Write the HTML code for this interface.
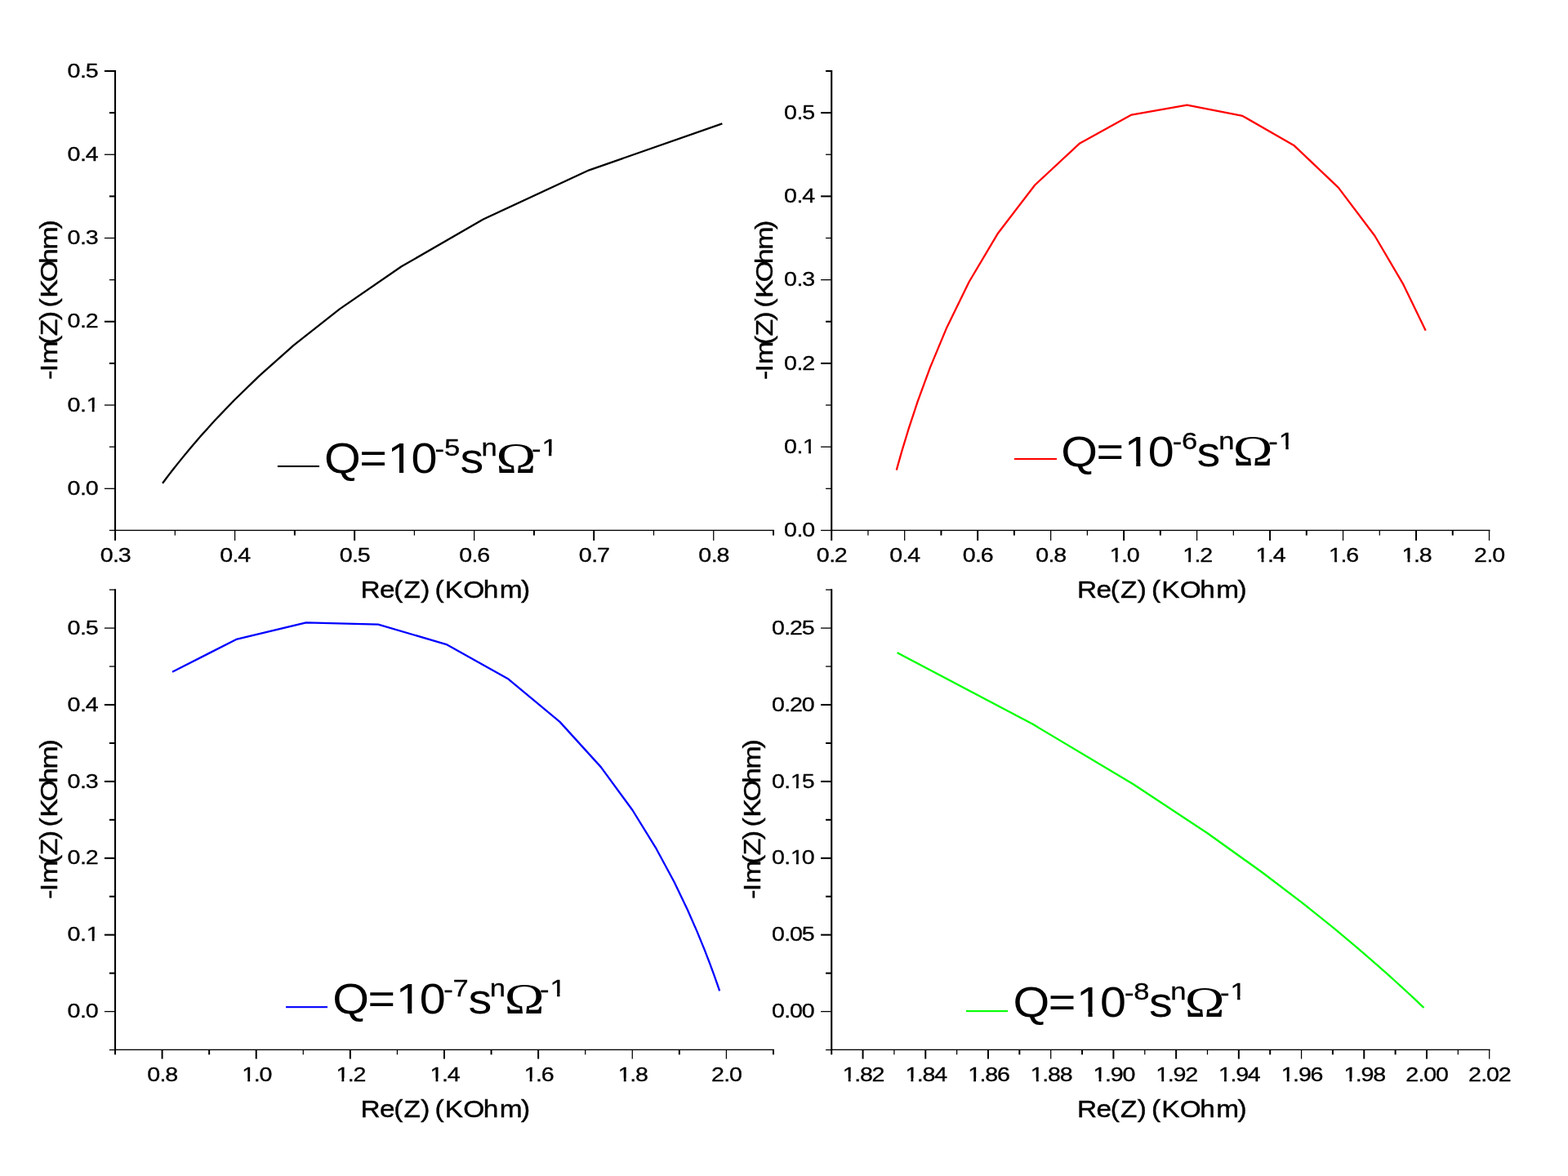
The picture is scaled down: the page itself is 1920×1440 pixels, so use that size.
<!DOCTYPE html>
<html lang="en"><head><meta charset="utf-8"><title>Nyquist plots</title>
<style>html,body{margin:0;padding:0;background:#fff;overflow:hidden}svg{display:block}text{fill:#000;font-family:"Liberation Sans",Arial,Helvetica,sans-serif;font-kerning:none;white-space:pre}text.sf{font-family:"Liberation Serif","Times New Roman",serif}</style>
</head><body>
<svg width="1920" height="1440" viewBox="0 0 1920 1440">
<rect width="1920" height="1440" fill="#fff"/>
<rect x="139.95" y="86" width="2.1" height="564.07" fill="#000"/>
<rect x="140" y="648.73" width="807.9" height="1.35" fill="#000"/>
<rect x="127.9" y="85.97" width="13.1" height="2.05" fill="#000"/>
<g transform="translate(119.45,94.6) scale(1.2275,1)"><text font-size="23.3" x="-30.01 -17.52 -12.01" stroke="#000" stroke-width="0.3">0.5</text></g>
<rect x="133.9" y="137.1" width="7.1" height="2.05" fill="#000"/>
<rect x="127.9" y="188.61" width="13.1" height="1.3" fill="#000"/>
<g transform="translate(119.45,196.86) scale(1.2275,1)"><text font-size="23.3" x="-30.01 -17.52 -12.01" stroke="#000" stroke-width="0.3">0.4</text></g>
<rect x="133.9" y="239.36" width="7.1" height="2.05" fill="#000"/>
<rect x="127.9" y="290.87" width="13.1" height="1.3" fill="#000"/>
<g transform="translate(119.45,299.12) scale(1.2275,1)"><text font-size="23.3" x="-30.01 -17.52 -12.01" stroke="#000" stroke-width="0.3">0.3</text></g>
<rect x="133.9" y="342" width="7.1" height="1.3" fill="#000"/>
<rect x="127.9" y="392.75" width="13.1" height="2.05" fill="#000"/>
<g transform="translate(119.45,401.38) scale(1.2275,1)"><text font-size="23.3" x="-30.01 -17.52 -12.01" stroke="#000" stroke-width="0.3">0.2</text></g>
<rect x="133.9" y="443.88" width="7.1" height="2.05" fill="#000"/>
<rect x="127.9" y="495.39" width="13.1" height="1.3" fill="#000"/>
<g transform="translate(119.45,503.64) scale(1.2275,1)"><text font-size="23.3" x="-30.01 -17.52 -11.24" stroke="#000" stroke-width="0.3">0.1</text><rect x="-10.82" y="-3.5" width="5.28" height="5.25" fill="#fff"/><rect x="-3.17" y="-3.5" width="5.24" height="5.25" fill="#fff"/></g>
<rect x="133.9" y="546.52" width="7.1" height="1.3" fill="#000"/>
<rect x="127.9" y="597.65" width="13.1" height="1.3" fill="#000"/>
<g transform="translate(119.45,605.9) scale(1.2275,1)"><text font-size="23.3" x="-30.01 -17.52 -12.01" stroke="#000" stroke-width="0.3">0.0</text></g>
<rect x="133.9" y="648.78" width="7.1" height="1.3" fill="#000"/>
<rect x="140.05" y="649.4" width="2" height="12.5" fill="#000"/>
<g transform="translate(141.05,687.5) scale(1.2275,1)"><text font-size="23.3" x="-15.01 -2.51 3" stroke="#000" stroke-width="0.3">0.3</text></g>
<rect x="213.69" y="649.4" width="1.25" height="6.2" fill="#000"/>
<rect x="286.97" y="649.4" width="1.25" height="12.5" fill="#000"/>
<g transform="translate(287.59,687.5) scale(1.2275,1)"><text font-size="23.3" x="-15.01 -2.51 3" stroke="#000" stroke-width="0.3">0.4</text></g>
<rect x="359.86" y="649.4" width="2" height="6.2" fill="#000"/>
<rect x="433.13" y="649.4" width="2" height="12.5" fill="#000"/>
<g transform="translate(434.13,687.5) scale(1.2275,1)"><text font-size="23.3" x="-15.01 -2.51 3" stroke="#000" stroke-width="0.3">0.5</text></g>
<rect x="506.78" y="649.4" width="1.25" height="6.2" fill="#000"/>
<rect x="580.05" y="649.4" width="1.25" height="12.5" fill="#000"/>
<g transform="translate(580.67,687.5) scale(1.2275,1)"><text font-size="23.3" x="-15.01 -2.51 3" stroke="#000" stroke-width="0.3">0.6</text></g>
<rect x="652.94" y="649.4" width="2" height="6.2" fill="#000"/>
<rect x="726.21" y="649.4" width="2" height="12.5" fill="#000"/>
<g transform="translate(727.21,687.5) scale(1.2275,1)"><text font-size="23.3" x="-15.01 -2.51 3" stroke="#000" stroke-width="0.3">0.7</text></g>
<rect x="799.86" y="649.4" width="1.25" height="6.2" fill="#000"/>
<rect x="873.12" y="649.4" width="1.25" height="12.5" fill="#000"/>
<g transform="translate(873.75,687.5) scale(1.2275,1)"><text font-size="23.3" x="-15.01 -2.51 3" stroke="#000" stroke-width="0.3">0.8</text></g>
<rect x="946.02" y="649.4" width="2" height="6.2" fill="#000"/>
<g transform="translate(454.1,732.4) scale(1.1284,1)"><text font-size="29.6" x="-11.22 9.7 24.9 35.71 54.3 57.85 69.39 80.36 100.34 122.07 139.65 163.05" stroke="#000" stroke-width="0.4">Re(Z) (KOhm)</text></g>
<g transform="translate(70.1,459) rotate(-90) scale(1.1151,1)"><text font-size="30.4" x="-5.06 3.36 12.05 33.24 42.86 59.78 63.37 73.95 84.48 101.95 122.01 137.64 160" stroke="#000" stroke-width="0.4">-Im(Z) (KOhm)</text></g>
<polyline points="199.69,590.88 201.51,588.45 203.9,585.29 207.04,581.17 211.19,575.82 216.66,568.87 223.91,559.87 233.54,548.26 246.37,533.34 263.53,514.31 286.57,490.21 317.61,460.07 359.49,422.97 415.95,378.33 491.62,326.32 591.77,268.47 721.35,208.31 883.26,151.75" fill="none" stroke="#000" stroke-width="2.3" stroke-linejoin="round" stroke-linecap="square"/>
<rect x="339.9" y="569.95" width="51.1" height="2.1" fill="#000"/>
<g transform="translate(397.1,579.3) scale(1.1058,1)"><text font-size="52" x="0 39.04 70.07 96.27">Q=10</text><rect x="72.82" y="-5.5" width="10.3" height="7.1" fill="#fff"/><rect x="87.75" y="-5.5" width="9.88" height="7.1" fill="#fff"/></g>
<g transform="translate(532.58,558.3) scale(1.1424,1)"><text font-size="30.2" x="0 9.97" dy="1.6 -1.6" stroke="#000" stroke-width="0.3">-5</text></g>
<g transform="translate(563.39,579.3) scale(1.1058,1)"><text font-size="52" x="0">s</text></g>
<g transform="translate(589.52,558.3) scale(1.1424,1)"><text font-size="30.2" x="0" stroke="#000" stroke-width="0.3">n</text></g>
<g transform="translate(607.48,579) scale(1.2576,1)"><text class="sf" font-size="52.27">Ω</text></g>
<g transform="translate(650.88,558.3) scale(1.1424,1)"><text font-size="30.2" x="0 10.97" dy="1.6 -1.6" stroke="#000" stroke-width="0.3">-1</text><rect x="11.91" y="-4.01" width="6.48" height="5.76" fill="#fff"/><rect x="21.38" y="-4.01" width="6.39" height="5.76" fill="#fff"/></g>
<rect x="1017.15" y="86" width="2.1" height="564.07" fill="#000"/>
<rect x="1017.2" y="648.73" width="807.3" height="1.35" fill="#000"/>
<rect x="1011.1" y="85.94" width="7.1" height="2.05" fill="#000"/>
<rect x="1005.1" y="137.08" width="13.1" height="2.05" fill="#000"/>
<g transform="translate(996.9,145.7) scale(1.2275,1)"><text font-size="23.3" x="-30.01 -17.52 -12.01" stroke="#000" stroke-width="0.3">0.5</text></g>
<rect x="1011.1" y="188.59" width="7.1" height="1.3" fill="#000"/>
<rect x="1005.1" y="239.34" width="13.1" height="2.05" fill="#000"/>
<g transform="translate(996.9,247.97) scale(1.2275,1)"><text font-size="23.3" x="-30.01 -17.52 -12.01" stroke="#000" stroke-width="0.3">0.4</text></g>
<rect x="1011.1" y="290.86" width="7.1" height="1.3" fill="#000"/>
<rect x="1005.1" y="341.99" width="13.1" height="1.3" fill="#000"/>
<g transform="translate(996.9,350.24) scale(1.2275,1)"><text font-size="23.3" x="-30.01 -17.52 -12.01" stroke="#000" stroke-width="0.3">0.3</text></g>
<rect x="1011.1" y="392.75" width="7.1" height="2.05" fill="#000"/>
<rect x="1005.1" y="443.89" width="13.1" height="2.05" fill="#000"/>
<g transform="translate(996.9,452.51) scale(1.2275,1)"><text font-size="23.3" x="-30.01 -17.52 -12.01" stroke="#000" stroke-width="0.3">0.2</text></g>
<rect x="1011.1" y="495.4" width="7.1" height="1.3" fill="#000"/>
<rect x="1005.1" y="546.53" width="13.1" height="1.3" fill="#000"/>
<g transform="translate(996.9,554.78) scale(1.2275,1)"><text font-size="23.3" x="-30.01 -17.52 -11.24" stroke="#000" stroke-width="0.3">0.1</text><rect x="-10.82" y="-3.5" width="5.28" height="5.25" fill="#fff"/><rect x="-3.17" y="-3.5" width="5.24" height="5.25" fill="#fff"/></g>
<rect x="1011.1" y="597.67" width="7.1" height="1.3" fill="#000"/>
<rect x="1005.1" y="648.8" width="13.1" height="1.3" fill="#000"/>
<g transform="translate(996.9,657.05) scale(1.2275,1)"><text font-size="23.3" x="-30.01 -17.52 -12.01" stroke="#000" stroke-width="0.3">0.0</text></g>
<rect x="1017.2" y="649.4" width="2" height="12.5" fill="#000"/>
<g transform="translate(1018.2,687.5) scale(1.2275,1)"><text font-size="23.3" x="-15.01 -2.51 3" stroke="#000" stroke-width="0.3">0.2</text></g>
<rect x="1062.32" y="649.4" width="1.25" height="6.2" fill="#000"/>
<rect x="1107.06" y="649.4" width="1.25" height="12.5" fill="#000"/>
<g transform="translate(1107.68,687.5) scale(1.2275,1)"><text font-size="23.3" x="-15.01 -2.51 3" stroke="#000" stroke-width="0.3">0.4</text></g>
<rect x="1151.42" y="649.4" width="2" height="6.2" fill="#000"/>
<rect x="1196.16" y="649.4" width="2" height="12.5" fill="#000"/>
<g transform="translate(1197.16,687.5) scale(1.2275,1)"><text font-size="23.3" x="-15.01 -2.51 3" stroke="#000" stroke-width="0.3">0.6</text></g>
<rect x="1240.9" y="649.4" width="2" height="6.2" fill="#000"/>
<rect x="1286.02" y="649.4" width="1.25" height="12.5" fill="#000"/>
<g transform="translate(1286.64,687.5) scale(1.2275,1)"><text font-size="23.3" x="-15.01 -2.51 3" stroke="#000" stroke-width="0.3">0.8</text></g>
<rect x="1330.76" y="649.4" width="1.25" height="6.2" fill="#000"/>
<rect x="1375.12" y="649.4" width="2" height="12.5" fill="#000"/>
<g transform="translate(1376.12,687.5) scale(1.2275,1)"><text font-size="23.3" x="-14.24 -2.51 3" stroke="#000" stroke-width="0.3">1.0</text><rect x="-13.82" y="-3.5" width="5.28" height="5.25" fill="#fff"/><rect x="-6.17" y="-3.5" width="5.24" height="5.25" fill="#fff"/></g>
<rect x="1419.86" y="649.4" width="2" height="6.2" fill="#000"/>
<rect x="1464.97" y="649.4" width="1.25" height="12.5" fill="#000"/>
<g transform="translate(1465.6,687.5) scale(1.2275,1)"><text font-size="23.3" x="-14.24 -2.51 3" stroke="#000" stroke-width="0.3">1.2</text><rect x="-13.82" y="-3.5" width="5.28" height="5.25" fill="#fff"/><rect x="-6.17" y="-3.5" width="5.24" height="5.25" fill="#fff"/></g>
<rect x="1509.72" y="649.4" width="1.25" height="6.2" fill="#000"/>
<rect x="1554.08" y="649.4" width="2" height="12.5" fill="#000"/>
<g transform="translate(1555.08,687.5) scale(1.2275,1)"><text font-size="23.3" x="-14.24 -2.51 3" stroke="#000" stroke-width="0.3">1.4</text><rect x="-13.82" y="-3.5" width="5.28" height="5.25" fill="#fff"/><rect x="-6.17" y="-3.5" width="5.24" height="5.25" fill="#fff"/></g>
<rect x="1598.82" y="649.4" width="2" height="6.2" fill="#000"/>
<rect x="1643.93" y="649.4" width="1.25" height="12.5" fill="#000"/>
<g transform="translate(1644.56,687.5) scale(1.2275,1)"><text font-size="23.3" x="-14.24 -2.51 3" stroke="#000" stroke-width="0.3">1.6</text><rect x="-13.82" y="-3.5" width="5.28" height="5.25" fill="#fff"/><rect x="-6.17" y="-3.5" width="5.24" height="5.25" fill="#fff"/></g>
<rect x="1688.68" y="649.4" width="1.25" height="6.2" fill="#000"/>
<rect x="1733.04" y="649.4" width="2" height="12.5" fill="#000"/>
<g transform="translate(1734.04,687.5) scale(1.2275,1)"><text font-size="23.3" x="-14.24 -2.51 3" stroke="#000" stroke-width="0.3">1.8</text><rect x="-13.82" y="-3.5" width="5.28" height="5.25" fill="#fff"/><rect x="-6.17" y="-3.5" width="5.24" height="5.25" fill="#fff"/></g>
<rect x="1777.78" y="649.4" width="2" height="6.2" fill="#000"/>
<rect x="1822.89" y="649.4" width="1.25" height="12.5" fill="#000"/>
<g transform="translate(1823.52,687.5) scale(1.2275,1)"><text font-size="23.3" x="-15.01 -2.51 3" stroke="#000" stroke-width="0.3">2.0</text></g>
<g transform="translate(1331.6,732.4) scale(1.1284,1)"><text font-size="29.6" x="-11.22 9.7 24.9 35.71 54.3 57.85 69.39 80.36 100.34 122.07 139.65 163.05" stroke="#000" stroke-width="0.4">Re(Z) (KOhm)</text></g>
<g transform="translate(945.6,459.3) rotate(-90) scale(1.1151,1)"><text font-size="30.4" x="-5.06 3.36 12.05 33.24 42.86 59.78 63.37 73.95 84.48 101.95 122.01 137.64 160" stroke="#000" stroke-width="0.4">-Im(Z) (KOhm)</text></g>
<polyline points="1098.04,574.47 1104.24,552.66 1112.58,525.23 1123.82,491.21 1138.99,449.83 1159.39,400.88 1186.57,345.23 1222.12,285.46 1267.28,226.48 1322.26,175.45 1385.53,140.55 1453.54,128.52 1521.42,141.91 1584.3,177.9 1638.77,229.58 1683.39,288.77 1718.44,348.41 1745.2,403.75" fill="none" stroke="#f00" stroke-width="2.3" stroke-linejoin="round" stroke-linecap="square"/>
<rect x="1241.9" y="560.95" width="52.1" height="2.1" fill="#f00"/>
<g transform="translate(1299.35,570.7) scale(1.1058,1)"><text font-size="52" x="0 39.04 70.07 96.27">Q=10</text><rect x="72.82" y="-5.5" width="10.3" height="7.1" fill="#fff"/><rect x="87.75" y="-5.5" width="9.88" height="7.1" fill="#fff"/></g>
<g transform="translate(1435.73,549.7) scale(1.1424,1)"><text font-size="30.2" x="0 9.97" dy="1.6 -1.6" stroke="#000" stroke-width="0.3">-6</text></g>
<g transform="translate(1465.44,570.7) scale(1.1058,1)"><text font-size="52" x="0">s</text></g>
<g transform="translate(1492.27,549.7) scale(1.1424,1)"><text font-size="30.2" x="0" stroke="#000" stroke-width="0.3">n</text></g>
<g transform="translate(1509.83,570.4) scale(1.2576,1)"><text class="sf" font-size="52.27">Ω</text></g>
<g transform="translate(1553.33,549.7) scale(1.1424,1)"><text font-size="30.2" x="0 10.97" dy="1.6 -1.6" stroke="#000" stroke-width="0.3">-1</text><rect x="11.91" y="-4.01" width="6.48" height="5.76" fill="#fff"/><rect x="21.38" y="-4.01" width="6.39" height="5.76" fill="#fff"/></g>
<rect x="139.95" y="721.3" width="2.1" height="564.78" fill="#000"/>
<rect x="140" y="1284.73" width="807.9" height="1.35" fill="#000"/>
<rect x="133.9" y="721.5" width="7.1" height="1.3" fill="#000"/>
<rect x="127.9" y="768.45" width="13.1" height="1.3" fill="#000"/>
<g transform="translate(119.45,776.7) scale(1.2275,1)"><text font-size="23.3" x="-30.01 -17.52 -12.01" stroke="#000" stroke-width="0.3">0.5</text></g>
<rect x="133.9" y="815.4" width="7.1" height="1.3" fill="#000"/>
<rect x="127.9" y="861.97" width="13.1" height="2.05" fill="#000"/>
<g transform="translate(119.45,870.6) scale(1.2275,1)"><text font-size="23.3" x="-30.01 -17.52 -12.01" stroke="#000" stroke-width="0.3">0.4</text></g>
<rect x="133.9" y="908.92" width="7.1" height="2.05" fill="#000"/>
<rect x="127.9" y="955.87" width="13.1" height="2.05" fill="#000"/>
<g transform="translate(119.45,964.5) scale(1.2275,1)"><text font-size="23.3" x="-30.01 -17.52 -12.01" stroke="#000" stroke-width="0.3">0.3</text></g>
<rect x="133.9" y="1002.82" width="7.1" height="2.05" fill="#000"/>
<rect x="127.9" y="1049.77" width="13.1" height="2.05" fill="#000"/>
<g transform="translate(119.45,1058.4) scale(1.2275,1)"><text font-size="23.3" x="-30.01 -17.52 -12.01" stroke="#000" stroke-width="0.3">0.2</text></g>
<rect x="133.9" y="1096.72" width="7.1" height="2.05" fill="#000"/>
<rect x="127.9" y="1143.67" width="13.1" height="2.05" fill="#000"/>
<g transform="translate(119.45,1152.3) scale(1.2275,1)"><text font-size="23.3" x="-30.01 -17.52 -11.24" stroke="#000" stroke-width="0.3">0.1</text><rect x="-10.82" y="-3.5" width="5.28" height="5.25" fill="#fff"/><rect x="-3.17" y="-3.5" width="5.24" height="5.25" fill="#fff"/></g>
<rect x="133.9" y="1190.62" width="7.1" height="2.05" fill="#000"/>
<rect x="127.9" y="1237.95" width="13.1" height="1.3" fill="#000"/>
<g transform="translate(119.45,1246.2) scale(1.2275,1)"><text font-size="23.3" x="-30.01 -17.52 -12.01" stroke="#000" stroke-width="0.3">0.0</text></g>
<rect x="133.9" y="1284.9" width="7.1" height="1.3" fill="#000"/>
<rect x="140" y="1285.4" width="2" height="6" fill="#000"/>
<rect x="197.57" y="1285.4" width="2" height="11.2" fill="#000"/>
<g transform="translate(198.57,1323.75) scale(1.2275,1)"><text font-size="23.3" x="-15.01 -2.51 3" stroke="#000" stroke-width="0.3">0.8</text></g>
<rect x="255.14" y="1285.4" width="2" height="6" fill="#000"/>
<rect x="312.71" y="1285.4" width="2" height="11.2" fill="#000"/>
<g transform="translate(313.71,1323.75) scale(1.2275,1)"><text font-size="23.3" x="-14.24 -2.51 3" stroke="#000" stroke-width="0.3">1.0</text><rect x="-13.82" y="-3.5" width="5.28" height="5.25" fill="#fff"/><rect x="-6.17" y="-3.5" width="5.24" height="5.25" fill="#fff"/></g>
<rect x="370.66" y="1285.4" width="1.25" height="6" fill="#000"/>
<rect x="427.85" y="1285.4" width="2" height="11.2" fill="#000"/>
<g transform="translate(428.85,1323.75) scale(1.2275,1)"><text font-size="23.3" x="-14.24 -2.51 3" stroke="#000" stroke-width="0.3">1.2</text><rect x="-13.82" y="-3.5" width="5.28" height="5.25" fill="#fff"/><rect x="-6.17" y="-3.5" width="5.24" height="5.25" fill="#fff"/></g>
<rect x="485.8" y="1285.4" width="1.25" height="6" fill="#000"/>
<rect x="542.99" y="1285.4" width="2" height="11.2" fill="#000"/>
<g transform="translate(543.99,1323.75) scale(1.2275,1)"><text font-size="23.3" x="-14.24 -2.51 3" stroke="#000" stroke-width="0.3">1.4</text><rect x="-13.82" y="-3.5" width="5.28" height="5.25" fill="#fff"/><rect x="-6.17" y="-3.5" width="5.24" height="5.25" fill="#fff"/></g>
<rect x="600.56" y="1285.4" width="2" height="6" fill="#000"/>
<rect x="658.13" y="1285.4" width="2" height="11.2" fill="#000"/>
<g transform="translate(659.13,1323.75) scale(1.2275,1)"><text font-size="23.3" x="-14.24 -2.51 3" stroke="#000" stroke-width="0.3">1.6</text><rect x="-13.82" y="-3.5" width="5.28" height="5.25" fill="#fff"/><rect x="-6.17" y="-3.5" width="5.24" height="5.25" fill="#fff"/></g>
<rect x="716.08" y="1285.4" width="1.25" height="6" fill="#000"/>
<rect x="773.65" y="1285.4" width="1.25" height="11.2" fill="#000"/>
<g transform="translate(774.27,1323.75) scale(1.2275,1)"><text font-size="23.3" x="-14.24 -2.51 3" stroke="#000" stroke-width="0.3">1.8</text><rect x="-13.82" y="-3.5" width="5.28" height="5.25" fill="#fff"/><rect x="-6.17" y="-3.5" width="5.24" height="5.25" fill="#fff"/></g>
<rect x="830.84" y="1285.4" width="2" height="6" fill="#000"/>
<rect x="888.79" y="1285.4" width="1.25" height="11.2" fill="#000"/>
<g transform="translate(889.41,1323.75) scale(1.2275,1)"><text font-size="23.3" x="-15.01 -2.51 3" stroke="#000" stroke-width="0.3">2.0</text></g>
<rect x="945.98" y="1285.4" width="2" height="6" fill="#000"/>
<g transform="translate(454.1,1367.6) scale(1.1284,1)"><text font-size="29.6" x="-11.22 9.7 24.9 35.71 54.3 57.85 69.39 80.36 100.34 122.07 139.65 163.05" stroke="#000" stroke-width="0.4">Re(Z) (KOhm)</text></g>
<g transform="translate(70.1,1095) rotate(-90) scale(1.1151,1)"><text font-size="30.4" x="-5.06 3.36 12.05 33.24 42.86 59.78 63.37 73.95 84.48 101.95 122.01 137.64 160" stroke="#000" stroke-width="0.4">-Im(Z) (KOhm)</text></g>
<polyline points="212.03,822.21 289.28,782.92 374.89,762.32 463.12,764.65 547.47,789.4 622.57,831.59 685.48,883.88 735.71,939.13 774.48,992.02 803.74,1039.43 825.57,1080.04 841.75,1113.74 853.75,1141.09 862.65,1162.93 869.29,1180.18 874.25,1193.69 877.97,1204.21 880.78,1212.36" fill="none" stroke="#00f" stroke-width="2.3" stroke-linejoin="round" stroke-linecap="square"/>
<rect x="350" y="1232.1" width="51" height="2.1" fill="#00f"/>
<g transform="translate(407.3,1241.2) scale(1.1058,1)"><text font-size="52" x="0 39.04 70.07 96.27">Q=10</text><rect x="72.82" y="-5.5" width="10.3" height="7.1" fill="#fff"/><rect x="87.75" y="-5.5" width="9.88" height="7.1" fill="#fff"/></g>
<g transform="translate(543.18,1220.2) scale(1.1424,1)"><text font-size="30.2" x="0 9.97" dy="1.6 -1.6" stroke="#000" stroke-width="0.3">-7</text></g>
<g transform="translate(573.59,1241.2) scale(1.1058,1)"><text font-size="52" x="0">s</text></g>
<g transform="translate(599.72,1220.2) scale(1.1424,1)"><text font-size="30.2" x="0" stroke="#000" stroke-width="0.3">n</text></g>
<g transform="translate(617.68,1240.9) scale(1.2576,1)"><text class="sf" font-size="52.27">Ω</text></g>
<g transform="translate(661.08,1220.2) scale(1.1424,1)"><text font-size="30.2" x="0 10.97" dy="1.6 -1.6" stroke="#000" stroke-width="0.3">-1</text><rect x="11.91" y="-4.01" width="6.48" height="5.76" fill="#fff"/><rect x="21.38" y="-4.01" width="6.39" height="5.76" fill="#fff"/></g>
<rect x="1017.15" y="721.3" width="2.1" height="564.78" fill="#000"/>
<rect x="1017.2" y="1284.73" width="807.4" height="1.35" fill="#000"/>
<rect x="1011.1" y="721.5" width="7.1" height="1.3" fill="#000"/>
<rect x="1005.1" y="768.45" width="13.1" height="1.3" fill="#000"/>
<g transform="translate(996.45,776.7) scale(1.2275,1)"><text font-size="23.3" x="-42.02 -29.52 -24.01 -12.01" stroke="#000" stroke-width="0.3">0.25</text></g>
<rect x="1011.1" y="815.4" width="7.1" height="1.3" fill="#000"/>
<rect x="1005.1" y="861.97" width="13.1" height="2.05" fill="#000"/>
<g transform="translate(996.45,870.6) scale(1.2275,1)"><text font-size="23.3" x="-42.02 -29.52 -24.01 -12.01" stroke="#000" stroke-width="0.3">0.20</text></g>
<rect x="1011.1" y="908.92" width="7.1" height="2.05" fill="#000"/>
<rect x="1005.1" y="955.87" width="13.1" height="2.05" fill="#000"/>
<g transform="translate(996.45,964.5) scale(1.2275,1)"><text font-size="23.3" x="-42.02 -29.52 -23.24 -12.01" stroke="#000" stroke-width="0.3">0.15</text><rect x="-22.82" y="-3.5" width="5.28" height="5.25" fill="#fff"/><rect x="-15.17" y="-3.5" width="5.24" height="5.25" fill="#fff"/></g>
<rect x="1011.1" y="1002.82" width="7.1" height="2.05" fill="#000"/>
<rect x="1005.1" y="1049.77" width="13.1" height="2.05" fill="#000"/>
<g transform="translate(996.45,1058.4) scale(1.2275,1)"><text font-size="23.3" x="-42.02 -29.52 -23.24 -12.01" stroke="#000" stroke-width="0.3">0.10</text><rect x="-22.82" y="-3.5" width="5.28" height="5.25" fill="#fff"/><rect x="-15.17" y="-3.5" width="5.24" height="5.25" fill="#fff"/></g>
<rect x="1011.1" y="1096.72" width="7.1" height="2.05" fill="#000"/>
<rect x="1005.1" y="1143.67" width="13.1" height="2.05" fill="#000"/>
<g transform="translate(996.45,1152.3) scale(1.2275,1)"><text font-size="23.3" x="-42.02 -29.52 -24.01 -12.01" stroke="#000" stroke-width="0.3">0.05</text></g>
<rect x="1011.1" y="1190.62" width="7.1" height="2.05" fill="#000"/>
<rect x="1005.1" y="1237.95" width="13.1" height="1.3" fill="#000"/>
<g transform="translate(996.45,1246.2) scale(1.2275,1)"><text font-size="23.3" x="-42.02 -29.52 -24.01 -12.01" stroke="#000" stroke-width="0.3">0.00</text></g>
<rect x="1011.1" y="1284.9" width="7.1" height="1.3" fill="#000"/>
<rect x="1017.2" y="1285.4" width="2" height="6" fill="#000"/>
<rect x="1055.56" y="1285.4" width="2" height="11.2" fill="#000"/>
<g transform="translate(1056.56,1323.75) scale(1.2275,1)"><text font-size="23.3" x="-20.24 -8.51 -3 9" stroke="#000" stroke-width="0.3">1.82</text><rect x="-19.82" y="-3.5" width="5.28" height="5.25" fill="#fff"/><rect x="-12.17" y="-3.5" width="5.24" height="5.25" fill="#fff"/></g>
<rect x="1094.29" y="1285.4" width="1.25" height="6" fill="#000"/>
<rect x="1132.27" y="1285.4" width="2" height="11.2" fill="#000"/>
<g transform="translate(1133.27,1323.75) scale(1.2275,1)"><text font-size="23.3" x="-20.24 -8.51 -3 9" stroke="#000" stroke-width="0.3">1.84</text><rect x="-19.82" y="-3.5" width="5.28" height="5.25" fill="#fff"/><rect x="-12.17" y="-3.5" width="5.24" height="5.25" fill="#fff"/></g>
<rect x="1171" y="1285.4" width="1.25" height="6" fill="#000"/>
<rect x="1208.99" y="1285.4" width="2" height="11.2" fill="#000"/>
<g transform="translate(1209.99,1323.75) scale(1.2275,1)"><text font-size="23.3" x="-20.24 -8.51 -3 9" stroke="#000" stroke-width="0.3">1.86</text><rect x="-19.82" y="-3.5" width="5.28" height="5.25" fill="#fff"/><rect x="-12.17" y="-3.5" width="5.24" height="5.25" fill="#fff"/></g>
<rect x="1247.34" y="1285.4" width="2" height="6" fill="#000"/>
<rect x="1286.07" y="1285.4" width="1.25" height="11.2" fill="#000"/>
<g transform="translate(1286.7,1323.75) scale(1.2275,1)"><text font-size="23.3" x="-20.24 -8.51 -3 9" stroke="#000" stroke-width="0.3">1.88</text><rect x="-19.82" y="-3.5" width="5.28" height="5.25" fill="#fff"/><rect x="-12.17" y="-3.5" width="5.24" height="5.25" fill="#fff"/></g>
<rect x="1324.06" y="1285.4" width="2" height="6" fill="#000"/>
<rect x="1362.41" y="1285.4" width="2" height="11.2" fill="#000"/>
<g transform="translate(1363.41,1323.75) scale(1.2275,1)"><text font-size="23.3" x="-20.24 -8.51 -3 9" stroke="#000" stroke-width="0.3">1.90</text><rect x="-19.82" y="-3.5" width="5.28" height="5.25" fill="#fff"/><rect x="-12.17" y="-3.5" width="5.24" height="5.25" fill="#fff"/></g>
<rect x="1401.15" y="1285.4" width="1.25" height="6" fill="#000"/>
<rect x="1439.13" y="1285.4" width="2" height="11.2" fill="#000"/>
<g transform="translate(1440.13,1323.75) scale(1.2275,1)"><text font-size="23.3" x="-20.24 -8.51 -3 9" stroke="#000" stroke-width="0.3">1.92</text><rect x="-19.82" y="-3.5" width="5.28" height="5.25" fill="#fff"/><rect x="-12.17" y="-3.5" width="5.24" height="5.25" fill="#fff"/></g>
<rect x="1477.86" y="1285.4" width="1.25" height="6" fill="#000"/>
<rect x="1515.84" y="1285.4" width="2" height="11.2" fill="#000"/>
<g transform="translate(1516.84,1323.75) scale(1.2275,1)"><text font-size="23.3" x="-20.24 -8.51 -3 9" stroke="#000" stroke-width="0.3">1.94</text><rect x="-19.82" y="-3.5" width="5.28" height="5.25" fill="#fff"/><rect x="-12.17" y="-3.5" width="5.24" height="5.25" fill="#fff"/></g>
<rect x="1554.2" y="1285.4" width="2" height="6" fill="#000"/>
<rect x="1592.93" y="1285.4" width="1.25" height="11.2" fill="#000"/>
<g transform="translate(1593.55,1323.75) scale(1.2275,1)"><text font-size="23.3" x="-20.24 -8.51 -3 9" stroke="#000" stroke-width="0.3">1.96</text><rect x="-19.82" y="-3.5" width="5.28" height="5.25" fill="#fff"/><rect x="-12.17" y="-3.5" width="5.24" height="5.25" fill="#fff"/></g>
<rect x="1630.91" y="1285.4" width="2" height="6" fill="#000"/>
<rect x="1669.27" y="1285.4" width="2" height="11.2" fill="#000"/>
<g transform="translate(1670.27,1323.75) scale(1.2275,1)"><text font-size="23.3" x="-20.24 -8.51 -3 9" stroke="#000" stroke-width="0.3">1.98</text><rect x="-19.82" y="-3.5" width="5.28" height="5.25" fill="#fff"/><rect x="-12.17" y="-3.5" width="5.24" height="5.25" fill="#fff"/></g>
<rect x="1707.63" y="1285.4" width="2" height="6" fill="#000"/>
<rect x="1745.98" y="1285.4" width="2" height="11.2" fill="#000"/>
<g transform="translate(1746.98,1323.75) scale(1.2275,1)"><text font-size="23.3" x="-21.01 -8.51 -3 9" stroke="#000" stroke-width="0.3">2.00</text></g>
<rect x="1784.72" y="1285.4" width="1.25" height="6" fill="#000"/>
<rect x="1823.07" y="1285.4" width="1.25" height="11.2" fill="#000"/>
<g transform="translate(1823.7,1323.75) scale(1.2275,1)"><text font-size="23.3" x="-21.01 -8.51 -3 9" stroke="#000" stroke-width="0.3">2.02</text></g>
<g transform="translate(1331.6,1368) scale(1.1284,1)"><text font-size="29.6" x="-11.22 9.7 24.9 35.71 54.3 57.85 69.39 80.36 100.34 122.07 139.65 163.05" stroke="#000" stroke-width="0.4">Re(Z) (KOhm)</text></g>
<g transform="translate(930.8,1095) rotate(-90) scale(1.1151,1)"><text font-size="30.4" x="-5.06 3.36 12.05 33.24 42.86 59.78 63.37 73.95 84.48 101.95 122.01 137.64 160" stroke="#000" stroke-width="0.4">-Im(Z) (KOhm)</text></g>
<polyline points="1099.67,799.65 1264.72,886.84 1387.33,960.08 1478.19,1020.03 1545.58,1068.22 1595.71,1106.44 1633.13,1136.47 1661.17,1159.9 1682.26,1178.09 1698.18,1192.15 1710.21,1203 1719.34,1211.34 1726.27,1217.75 1731.54,1222.67 1735.55,1226.45 1738.61,1229.34 1740.95,1231.55 1742.73,1233.24" fill="none" stroke="#0f0" stroke-width="2.3" stroke-linejoin="round" stroke-linecap="square"/>
<rect x="1183" y="1237.05" width="51" height="2.1" fill="#0f0"/>
<g transform="translate(1240.6,1244.9) scale(1.1058,1)"><text font-size="52" x="0 39.04 70.07 96.27">Q=10</text><rect x="72.82" y="-5.5" width="10.3" height="7.1" fill="#fff"/><rect x="87.75" y="-5.5" width="9.88" height="7.1" fill="#fff"/></g>
<g transform="translate(1376.98,1223.9) scale(1.1424,1)"><text font-size="30.2" x="0 9.97" dy="1.6 -1.6" stroke="#000" stroke-width="0.3">-8</text></g>
<g transform="translate(1406.89,1244.9) scale(1.1058,1)"><text font-size="52" x="0">s</text></g>
<g transform="translate(1433.22,1223.9) scale(1.1424,1)"><text font-size="30.2" x="0" stroke="#000" stroke-width="0.3">n</text></g>
<g transform="translate(1450.68,1244.6) scale(1.2576,1)"><text class="sf" font-size="52.27">Ω</text></g>
<g transform="translate(1494.08,1223.9) scale(1.1424,1)"><text font-size="30.2" x="0 10.97" dy="1.6 -1.6" stroke="#000" stroke-width="0.3">-1</text><rect x="11.91" y="-4.01" width="6.48" height="5.76" fill="#fff"/><rect x="21.38" y="-4.01" width="6.39" height="5.76" fill="#fff"/></g>
</svg>
</body></html>
